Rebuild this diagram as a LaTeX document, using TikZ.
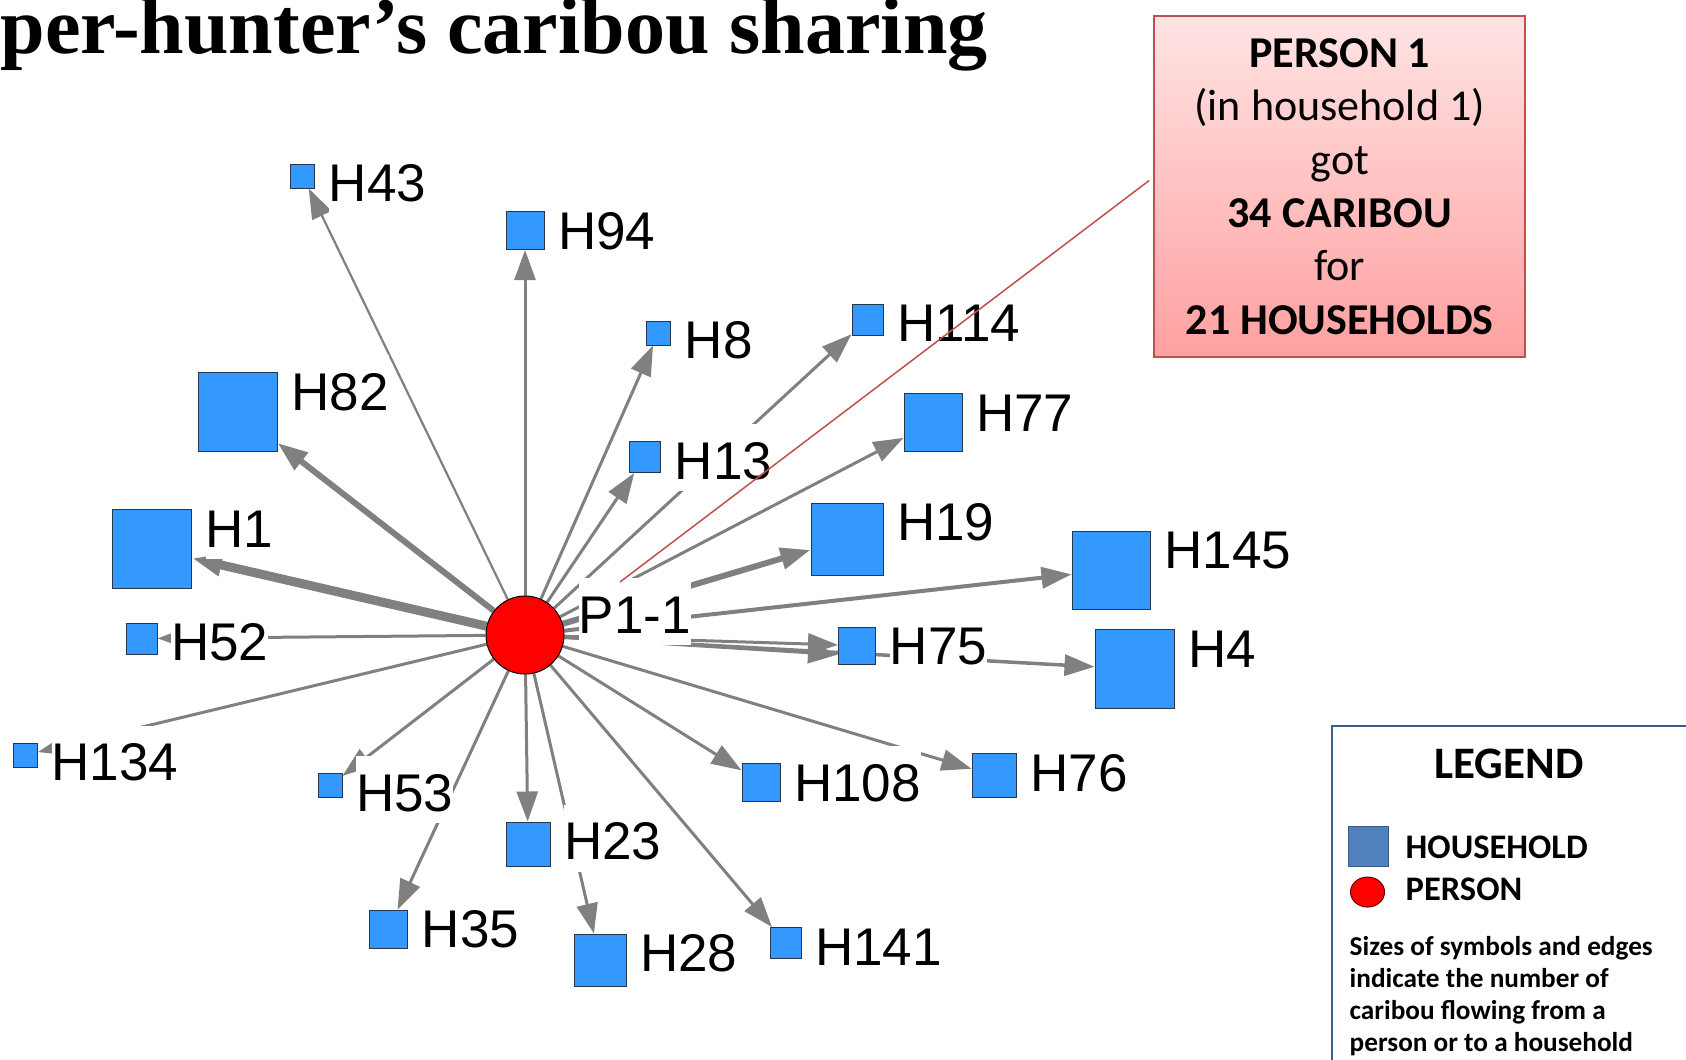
\documentclass[tikz,border=0pt]{standalone}
\usepackage{fontspec}
\setmainfont{Liberation Sans}
\newfontfamily\calibrifont{Carlito}
\newfontfamily\headfont{Liberation Serif}
\usetikzlibrary{arrows.meta,calc,backgrounds,positioning,shapes.geometric}

\definecolor{hhblue}{RGB}{51,153,255}
\definecolor{hhline}{RGB}{40,55,80}
\definecolor{edgegray}{RGB}{128,128,128}
\definecolor{calloutred}{RGB}{192,80,77}
\definecolor{callouttop}{RGB}{255,228,228}
\definecolor{calloutbot}{RGB}{255,160,160}
\definecolor{legblue}{RGB}{79,129,189}
\definecolor{legline}{RGB}{56,93,138}

\tikzset{
  house/.style={rectangle, draw=hhline, line width=0.01cm, fill=hhblue, inner sep=0pt},
  person/.style={circle, draw=black, line width=0.01cm, fill=red, inner sep=0pt, minimum size=0.78cm},
  flow/.style={draw=edgegray, line width=0.03cm, -{Triangle[length=0.3cm,width=0.21cm]}},
  hlab/.style={fill=white, inner sep=0pt, text height=0.55cm, text depth=0.12cm,
    font=\fontsize{15.08pt}{18pt}\selectfont, anchor=base west},
  legtext/.style={inner sep=0pt, font=\calibrifont\bfseries\fontsize{9.8pt}{12pt}\selectfont}
}

\begin{document}
\begin{tikzpicture}[x=0.01cm, y=-0.01cm]
  \path[use as bounding box, clip] (0,0) rectangle (1686,1059);
  \node[anchor=base west, inner sep=0pt, font=\headfont\bfseries\fontsize{22.76pt}{26pt}\selectfont] (title) at (0,53) {per-hunter’s caribou sharing};

  % person and households
  \node[person] (p1) at (525,635) {};
  \foreach \n/\x/\y/\s in {43/302.7/176/24, 94/525/230.5/38, 8/658.5/333/24, 114/867.5/319.5/31,
      82/237.7/412/79, 77/933/422.5/58, 13/645/457/31, 1/152/549/79, 19/847/539/72,
      145/1111/570/78, 52/141.5/638.5/31, 75/857/645.5/37, 4/1134.5/669/79, 134/25.5/755/24,
      53/330/785.5/24, 108/761/782.5/38, 76/994/775.5/44, 23/528/844/44, 35/388.5/929/38,
      28/600/960/52, 141/785.5/943/31}
    \node[house, minimum size=\s*0.01cm] (h\n) at (\x,\y) {};

  % flows of caribou
  \begin{scope}[on background layer]
    \foreach \n/\w in {43/2.2, 94/3, 8/3, 114/3, 82/6, 77/3, 13/3, 1/9, 19/6, 145/4, 52/3,
        75/3, 4/3.5, 134/3, 53/3, 108/3, 76/3, 23/3, 35/3, 28/3, 141/3}
      \draw[flow, line width=\w*0.01cm] (p1) -- (h\n);
    \draw[flow] (p1) -- ($(h75.west)+(0,9)$);
  \end{scope}

  % labels
  \foreach \n in {43,94,8,114,82,77,13,1,19,145,52,75,4,134,53,108,76,23,35,28,141}
    \node[hlab] (l\n) at ($(h\n.north east)+(13,38)$) {H\n};
  \node[hlab] (p1lab) at (578,633) {P1-1};

  % callout
  \node[draw=calloutred, line width=0.02cm, top color=callouttop, bottom color=calloutbot,
    minimum width=3.71cm, minimum height=3.41cm, align=center,
    font=\calibrifont\fontsize{12.52pt}{15.17pt}\selectfont] (callout) at (1339.7,186.5)
    {\textbf{PERSON 1}\\(in household 1)\\got\\\textbf{34 CARIBOU}\\for\\\textbf{21 HOUSEHOLDS}};
  \coordinate (ptr) at (620,582);
  \draw[calloutred, line width=0.015cm] (ptr) -- ($(callout.west)+(-4,-6)$);

  % legend
  \draw[legline, line width=0.02cm] (1332,726) rectangle (1740,1120);
  \node[anchor=base, inner sep=0pt, font=\calibrifont\bfseries\fontsize{12.8pt}{15pt}\selectfont] (legtitle) at (1509,778) {LEGEND};
  \node[rectangle, fill=legblue, draw=legline, line width=0.01cm, minimum size=0.4cm, inner sep=0pt] (legsq) at (1368,846) {};
  \node[legtext, anchor=base west] (leghh) at (1405,858.3) {HOUSEHOLD};
  \node[ellipse, fill=red, draw=black!60!red, line width=0.01cm, minimum width=0.34cm, minimum height=0.3cm, inner sep=0pt] (legpc) at (1367.5,892) {};
  \node[legtext, anchor=base west] (legper) at (1405,900) {PERSON};
  \node[anchor=north west, inner sep=0pt, align=left,
    font=\calibrifont\bfseries\fontsize{7.75pt}{9.1pt}\selectfont] (legnote) at (1349,936)
    {Sizes of symbols and edges\\indicate the number of\\caribou flowing from a\\person or to a household};
\end{tikzpicture}
\end{document}
